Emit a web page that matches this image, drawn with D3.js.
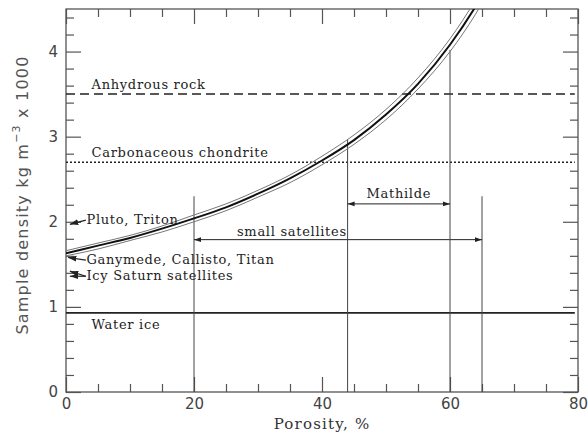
<!DOCTYPE html>
<html>
<head>
<meta charset="utf-8">
<script src="https://cdn.jsdelivr.net/npm/d3@7"></script>
<style>
  body { margin: 0; background: #fff; }
  svg { display: block; }
  .ann { font-family: "DejaVu Serif", serif; font-size: 13px; letter-spacing: 0.7px; fill: #222; }
  .tick text { font-family: "DejaVu Sans", sans-serif; font-size: 15px; fill: #444; }
</style>
</head>
<body>
<svg id="chart"></svg>
<script>
// grain density model curve (porosity %, density x1000 kg/m3)
const porosity = [0, 5, 10, 15, 20, 25, 30, 35, 40, 45, 50, 55, 60, 64, 66];
const densityMid = [1.63, 1.72, 1.81, 1.92, 2.04, 2.17, 2.33, 2.51, 2.72, 2.96, 3.26, 3.62, 4.08, 4.53, 4.79];
const densityLow = [1.60, 1.68, 1.78, 1.88, 2.00, 2.13, 2.29, 2.46, 2.67, 2.91, 3.20, 3.56, 4.00, 4.44, 4.70];
const densityHigh = [1.66, 1.75, 1.84, 1.95, 2.08, 2.21, 2.37, 2.55, 2.77, 3.02, 3.32, 3.69, 4.15, 4.61, 4.88];

// reference densities
const refNames = ["Anhydrous rock", "Carbonaceous chondrite", "Water ice"];
const refValues = [3.5, 2.7, 0.93];
const refDash = ["9,5", "2,2", null];

// porosity ranges
const rangeNames = ["small satellites", "Mathilde"];
const rangeFrom = [20, 44];
const rangeTo = [65, 60];
const rangeArrowY = [1.79, 2.21];
const rangeTopFrom = [2.3, 2.97];
const rangeTopTo = [2.3, 4.02];

// bodies plotted as arrows on the density axis
const bodyNames = ["Pluto, Triton", "Ganymede, Callisto, Titan", "Icy Saturn satellites", ""];
const bodyP = [0.6, 0.3, 0.6, 0.6];
const bodyRho = [1.97, 1.58, 1.42, 1.36];
const bodyLabelRho = [2.02, 1.55, 1.36, 1.36];

const xTicks = [0, 20, 40, 60, 80];
const yTicks = [0, 1, 2, 3, 4];

const width = 588, height = 434;
const margin = { top: 9, right: 10, bottom: 42, left: 66 };

const svg = d3.select("#chart").attr("width", width).attr("height", height);

const x = d3.scaleLinear().domain([0, 80]).range([margin.left, width - margin.right]);
const y = d3.scaleLinear().domain([0, 4.5]).range([height - margin.bottom, margin.top]);

svg.append("defs").append("clipPath").attr("id", "clip")
  .append("rect")
  .attr("x", x(0)).attr("y", y(4.5))
  .attr("width", x(80) - x(0)).attr("height", y(0) - y(4.5));

svg.append("defs").append("marker")
  .attr("id", "head")
  .attr("viewBox", "0 0 10 10")
  .attr("refX", 10).attr("refY", 5)
  .attr("markerWidth", 7).attr("markerHeight", 7)
  .attr("orient", "auto-start-reverse")
  .append("path").attr("d", "M0,1.5 L10,5 L0,8.5 Z").attr("fill", "#222");

// axes: ticks inside on all four sides
const minorX = d3.range(0, 81, 5).filter((d) => d % 20 !== 0);
const minorY = d3.range(0, 4.51, 0.2).map((d) => +d.toFixed(1)).filter((d) => d % 1 !== 0);

function frame(axisFn, scale, major, minor, tx, ty, labels) {
  const g = svg.append("g").attr("transform", `translate(${tx},${ty})`);
  g.append("g").call(axisFn(scale).tickValues(major).tickSize(-15)
    .tickFormat(labels ? d3.format("d") : ""));
  g.append("g").call(axisFn(scale).tickValues(minor).tickSize(-8).tickFormat(""));
  g.selectAll(".domain").remove();
  g.selectAll("line").attr("stroke", "#555").attr("stroke-width", 1.2);
  return g;
}

frame(d3.axisBottom, x, xTicks, minorX, 0, y(0), true)
  .selectAll("text").attr("y", 6).attr("dy", "0.71em");
frame(d3.axisTop, x, xTicks, minorX, 0, y(4.5), false);
frame(d3.axisLeft, y, yTicks, minorY, x(0), 0, true)
  .selectAll("text").attr("x", -8);
frame(d3.axisRight, y, yTicks, minorY, x(80), 0, false);

svg.append("rect")
  .attr("x", x(0)).attr("y", y(4.5))
  .attr("width", x(80) - x(0)).attr("height", y(0) - y(4.5))
  .attr("fill", "none").attr("stroke", "#555").attr("stroke-width", 1.3);

// axis titles
svg.append("text")
  .attr("x", x(40)).attr("y", 429)
  .attr("text-anchor", "middle")
  .attr("font-family", "DejaVu Serif, serif").attr("font-size", 15)
  .attr("letter-spacing", 1.2).attr("fill", "#333")
  .text("Porosity, %");

const yt = svg.append("text")
  .attr("transform", `translate(28,195) rotate(-90)`)
  .attr("text-anchor", "middle")
  .attr("font-family", "DejaVu Sans, sans-serif").attr("font-size", 16)
  .attr("letter-spacing", 1.2).attr("fill", "#555");
yt.append("tspan").text("Sample density kg m");
yt.append("tspan").attr("dy", -8).attr("font-size", 11).text("\u22123");
yt.append("tspan").attr("dy", 8).text(" x 1000");

// reference lines
refValues.forEach((v, i) => {
  svg.append("line")
    .attr("x1", x(0)).attr("x2", x(79.5))
    .attr("y1", y(v)).attr("y2", y(v))
    .attr("stroke", "#222").attr("stroke-width", i === 2 ? 1.6 : 1.5)
    .attr("stroke-dasharray", refDash[i]);
  svg.append("text").attr("class", "ann")
    .attr("x", x(4)).attr("y", i === 2 ? y(v) + 16 : y(v) - 5)
    .text(refNames[i]);
});

// porosity range verticals and double arrows
rangeNames.forEach((name, i) => {
  svg.append("line")
    .attr("x1", x(rangeFrom[i])).attr("x2", x(rangeFrom[i]))
    .attr("y1", y(rangeTopFrom[i])).attr("y2", y(0))
    .attr("stroke", "#444").attr("stroke-width", 1);
  svg.append("line")
    .attr("x1", x(rangeTo[i])).attr("x2", x(rangeTo[i]))
    .attr("y1", y(rangeTopTo[i])).attr("y2", y(0))
    .attr("stroke", "#444").attr("stroke-width", 1);
  svg.append("line")
    .attr("x1", x(rangeFrom[i])).attr("x2", x(rangeTo[i]))
    .attr("y1", y(rangeArrowY[i])).attr("y2", y(rangeArrowY[i]))
    .attr("stroke", "#222").attr("stroke-width", 1)
    .attr("marker-start", "url(#head)").attr("marker-end", "url(#head)");
});
svg.append("text").attr("class", "ann").attr("text-anchor", "middle")
  .attr("x", x(35.3)).attr("y", y(rangeArrowY[0]) - 4).text(rangeNames[0]);
svg.append("text").attr("class", "ann").attr("text-anchor", "middle")
  .attr("x", x(52)).attr("y", y(rangeArrowY[1]) - 6).text(rangeNames[1]);

// model curve with its band
const line = (vals) => d3.line()
  .x((d, i) => x(porosity[i]))
  .y((d) => y(d))
  .curve(d3.curveMonotoneX)(vals);

const curves = svg.append("g").attr("clip-path", "url(#clip)");
[densityLow, densityHigh].forEach((vals) => {
  curves.append("path").attr("d", line(vals))
    .attr("fill", "none").attr("stroke", "#777").attr("stroke-width", 1);
});
curves.append("path").attr("d", line(densityMid))
  .attr("fill", "none").attr("stroke", "#111").attr("stroke-width", 2);

// bodies
bodyNames.forEach((name, i) => {
  svg.append("line")
    .attr("x1", x(3.1)).attr("y1", y(bodyLabelRho[i]))
    .attr("x2", x(bodyP[i])).attr("y2", y(bodyRho[i]))
    .attr("stroke", "#222").attr("stroke-width", 1.2)
    .attr("marker-end", "url(#head)");
  if (name) {
    svg.append("text").attr("class", "ann")
      .attr("x", x(3.2)).attr("y", y(bodyLabelRho[i]) + 4)
      .text(name);
  }
});
</script>
</body>
</html>
